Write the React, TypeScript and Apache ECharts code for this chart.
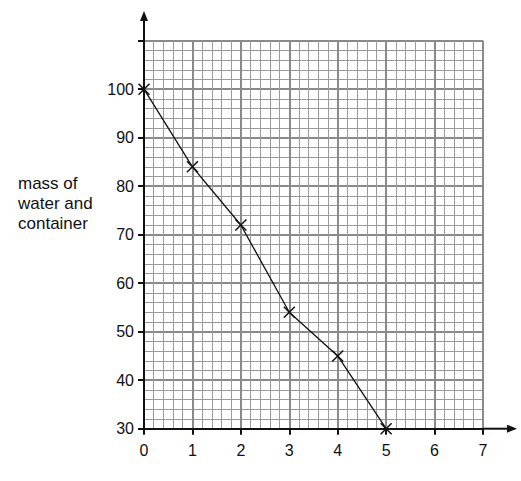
import React, { useEffect, useRef } from "react";
import * as echarts from "echarts";

const timeValues = [0, 1, 2, 3, 4, 5];
const massValues = [100, 84, 72, 54, 45, 30];
const xTicks = [0, 1, 2, 3, 4, 5, 6, 7];
const yTicks = [30, 40, 50, 60, 70, 80, 90, 100, 110];
const yLabelLines = ["mass of", "water and", "container"];

const GL = 144, GT = 40.7, GR = 483, GB = 428.7;

export default function App() {
  const ref = useRef<HTMLDivElement>(null);
  useEffect(() => {
    if (!ref.current) return;
    const chart = echarts.init(ref.current, null, { renderer: "svg" });
    const font = "'Liberation Sans', Arial, sans-serif";
    chart.setOption({
      animation: false,
      backgroundColor: "#fff",
      grid: { left: GL, top: GT, width: GR - GL, height: GB - GT, containLabel: false },
      xAxis: {
        type: "value",
        min: xTicks[0],
        max: xTicks[xTicks.length - 1],
        interval: 1,
        axisLine: { show: true, onZero: false, lineStyle: { color: "#111", width: 2 } },
        axisTick: { show: true, length: 6, lineStyle: { color: "#111", width: 2 } },
        axisLabel: { color: "#111", fontSize: 16, fontFamily: font, margin: 14 },
        splitLine: { show: true, lineStyle: { color: "#8a8a8a", width: 2 } },
        minorTick: { show: false, splitNumber: 5 },
        minorSplitLine: { show: true, lineStyle: { color: "#9a9a9a", width: 1 } },
      },
      yAxis: {
        type: "value",
        min: yTicks[0],
        max: yTicks[yTicks.length - 1],
        interval: 10,
        axisLine: { show: true, onZero: false, lineStyle: { color: "#111", width: 2 } },
        axisTick: { show: true, length: 6, lineStyle: { color: "#111", width: 2 } },
        axisLabel: {
          color: "#111",
          fontSize: 16,
          fontFamily: font,
          margin: 10,
          padding: [4, 0, 0, 0],
          formatter: (v: number) => (v === 110 ? "" : String(v)),
        },
        splitLine: { show: true, lineStyle: { color: "#8a8a8a", width: 2 } },
        minorTick: { show: false, splitNumber: 5 },
        minorSplitLine: { show: true, lineStyle: { color: "#9a9a9a", width: 1 } },
      },
      series: [
        {
          type: "line",
          data: timeValues.map((t, i) => [t, massValues[i]]),
          clip: false,
          symbol: "path://M0,0L10,10M10,0L0,10",
          symbolSize: 11,
          showSymbol: true,
          lineStyle: { color: "#111", width: 1.3 },
          itemStyle: { color: "none", borderColor: "#111", borderWidth: 1.5 },
          z: 5,
        },
      ],
      graphic: [
        { type: "line", shape: { x1: GL, y1: GT, x2: GL, y2: 18 }, style: { stroke: "#111", lineWidth: 2 }, z: 10 },
        { type: "polygon", shape: { points: [[GL, 11], [GL - 4, 21], [GL + 4, 21]] }, style: { fill: "#111" }, z: 10 },
        { type: "line", shape: { x1: GR, y1: GB, x2: 510, y2: GB }, style: { stroke: "#111", lineWidth: 2 }, z: 10 },
        { type: "polygon", shape: { points: [[517, GB], [507, GB - 4], [507, GB + 4]] }, style: { fill: "#111" }, z: 10 },
        {
          type: "text",
          left: 18,
          top: 173,
          style: {
            text: yLabelLines.join("\n"),
            fontSize: 17,
            lineHeight: 20,
            fontFamily: font,
            fill: "#111",
          },
        },
      ],
    });
    return () => chart.dispose();
  }, []);
  return <div ref={ref} style={{ position: "fixed", left: 0, top: 0, width: 521, height: 481 }} />;
}
